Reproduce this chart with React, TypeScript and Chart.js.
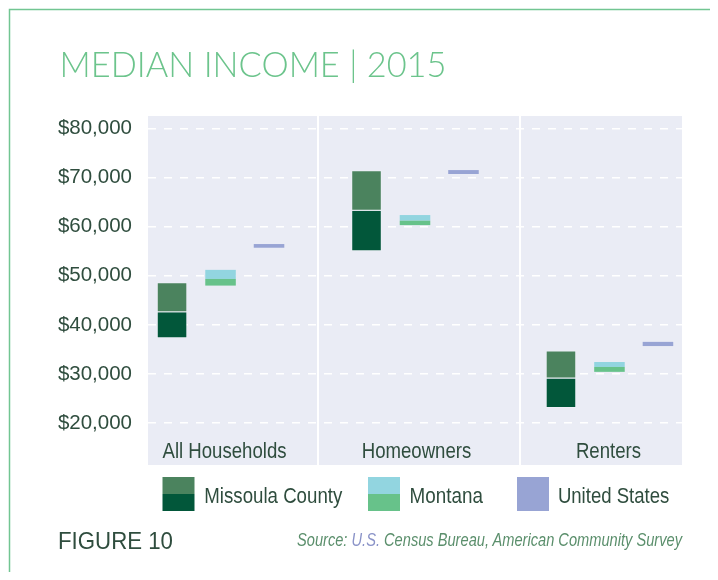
import React, { useEffect, useRef } from 'react';
import { Chart, registerables } from 'chart.js';

Chart.register(...registerables);

// ---------- data ----------
const categories = ['All Households', 'Homeowners', 'Renters'];
const missoulaLow = [37300, 55000, 23100];
const missoulaMid = [42600, 63200, 29100];
const missoulaHigh = [48700, 71450, 34800];
const montanaLow = [48000, 60300, 30450];
const montanaMid = [49350, 61200, 31450];
const montanaHigh = [51200, 62350, 32450];
const usLow = [55700, 70700, 35700];
const usHigh = [56450, 71500, 36550];
const yTickValues = [20000, 30000, 40000, 50000, 60000, 70000, 80000];
const legendLabels = ['Missoula County', 'Montana', 'United States'];
const titleText = 'MEDIAN INCOME | 2015';
const figureText = 'FIGURE 10';

// ---------- style ----------
const TEXT = '#2f4d3e';
const PLOT_BG = '#eaecf5';
const C_MC_DARK = '#02573a';
const C_MC_MID = '#4b835e';
const C_MT_GREEN = '#67c28a';
const C_MT_BLUE = '#92d5e0';
const C_US = '#98a4d4';
const MC_EDGE = 'rgba(255,255,255,0.22)';
const SANS = "'Liberation Sans', Arial, sans-serif";

const range = (lo: number[], hi: number[]) => lo.map((v, i) => ({ x: i, y: [v, hi[i]] }));

const barCommon = {
  categoryPercentage: 0.748,
  barPercentage: 0.63,
};

const bgPlugin = {
  id: 'plotBg',
  beforeDraw(chart: any) {
    const { ctx, chartArea } = chart;
    ctx.save();
    ctx.fillStyle = PLOT_BG;
    ctx.fillRect(chartArea.left, chartArea.top, chartArea.right - chartArea.left, chartArea.bottom - chartArea.top);
    ctx.restore();
  },
  beforeDatasetsDraw(chart: any) {
    const { ctx, chartArea, scales } = chart;
    const x = scales.x;
    ctx.save();
    ctx.strokeStyle = '#ffffff';
    ctx.lineWidth = 2;
    [0.5, 1.54].forEach((v) => {
      const px = Math.round(x.getPixelForValue(v));
      ctx.beginPath();
      ctx.moveTo(px, chartArea.top);
      ctx.lineTo(px, chartArea.bottom);
      ctx.stroke();
    });
    ctx.restore();
  },
  afterDatasetsDraw(chart: any) {
    const { ctx, chartArea, scales } = chart;
    const x = scales.x;
    ctx.save();
    ctx.font = `21.5px ${SANS}`;
    ctx.fillStyle = TEXT;
    ctx.textAlign = 'center';
    ctx.textBaseline = 'alphabetic';
    categories.forEach((c, i) => {
      ctx.save();
      ctx.translate(x.getPixelForValue(i) + 4 - i * 2.5, chartArea.bottom - 7.3);
      ctx.scale(0.865, 1);
      ctx.fillText(c, 0, 0);
      ctx.restore();
    });
    ctx.restore();
  },
};

export default function App() {
  const ref = useRef<HTMLCanvasElement>(null);

  useEffect(() => {
    if (!ref.current) return;
    const chart = new Chart(ref.current, {
      type: 'bar',
      data: {
        datasets: [
          { label: 'Missoula County low', data: range(missoulaLow, missoulaMid) as any, backgroundColor: C_MC_DARK, borderColor: MC_EDGE, borderWidth: 1, borderSkipped: 'top', stack: 'mc', ...barCommon },
          { label: 'Missoula County high', data: range(missoulaMid, missoulaHigh) as any, backgroundColor: C_MC_MID, borderColor: MC_EDGE, borderWidth: 1, borderSkipped: false, stack: 'mc', ...barCommon },
          { label: 'Montana low', data: range(montanaLow, montanaMid) as any, backgroundColor: C_MT_GREEN, borderWidth: 0, stack: 'mt', ...barCommon },
          { label: 'Montana high', data: range(montanaMid, montanaHigh) as any, backgroundColor: C_MT_BLUE, borderWidth: 0, stack: 'mt', ...barCommon },
          { label: 'United States', data: range(usLow, usHigh) as any, backgroundColor: C_US, borderWidth: 0, stack: 'us', ...barCommon },
        ],
      },
      options: {
        responsive: false,
        animation: false,
        layout: { padding: { top: 16, right: 28, bottom: 5, left: 0 } },
        plugins: {
          legend: { display: false },
          tooltip: { enabled: false },
          title: { display: false },
        },
        scales: {
          x: {
            type: 'linear',
            display: false,
            offset: false,
            grid: { offset: false },
            min: -0.373,
            max: 2.373,
            stacked: true,
            afterBuildTicks: (s: any) => {
              s.ticks = categories.map((_, i) => ({ value: i }));
            },
          },
          y: {
            type: 'linear',
            min: 11500,
            max: 82500,
            stacked: false,
            afterFit: (s: any) => {
              s.width = 140;
              s.paddingTop = 0;
              s.paddingBottom = 0;
            },
            afterBuildTicks: (s: any) => {
              s.ticks = yTickValues.map((v) => ({ value: v }));
            },
            ticks: {
              padding: 16,
              color: TEXT,
              font: { family: SANS, size: 20.5 },
              callback: (v: any) => '$' + Number(v).toLocaleString('en-US'),
            },
            grid: { color: '#ffffff', lineWidth: 1.5, drawTicks: false },
            border: { display: false, dash: [8, 8] },
          },
        },
      } as any,
      plugins: [bgPlugin],
    });
    return () => chart.destroy();
  }, []);

  const legendY = 477;
  const legendH = 34;
  return (
    <div style={{ position: 'relative', width: 702, height: 564 }}>
      <canvas
        ref={ref}
        width={702}
        height={370}
        style={{ position: 'absolute', left: 0, top: 92, width: 702, height: 370 }}
      />
      <svg
        width={718}
        height={580}
        style={{ position: 'absolute', left: -8, top: -8, pointerEvents: 'none' }}
      >
        <path d="M9.5 580 V9.5 H718" fill="none" stroke="#72c592" strokeWidth={1.5} />
        <text x={59.5} y={77} fontFamily="Lato, 'Liberation Sans', sans-serif" fontWeight={300} fontSize={35} fill="#6cc48c" textLength={387} lengthAdjust="spacingAndGlyphs">
          {titleText}
        </text>

        {/* legend */}
        <rect x={162.5} y={legendY} width={32} height={legendH / 2} fill={C_MC_MID} />
        <rect x={162.5} y={legendY + legendH / 2} width={32} height={legendH / 2} fill={C_MC_DARK} />
        <text x={204.3} y={502.5} fontFamily={SANS} fontSize={22} fill={TEXT} textLength={138} lengthAdjust="spacingAndGlyphs">{legendLabels[0]}</text>

        <rect x={368} y={legendY} width={32} height={legendH / 2} fill={C_MT_BLUE} />
        <rect x={368} y={legendY + legendH / 2} width={32} height={legendH / 2} fill={C_MT_GREEN} />
        <text x={409.6} y={502.5} fontFamily={SANS} fontSize={22} fill={TEXT} textLength={73.3} lengthAdjust="spacingAndGlyphs">{legendLabels[1]}</text>

        <rect x={517} y={legendY} width={32} height={legendH} fill={C_US} />
        <text x={557.9} y={502.5} fontFamily={SANS} fontSize={22} fill={TEXT} textLength={111.4} lengthAdjust="spacingAndGlyphs">{legendLabels[2]}</text>

        {/* footer */}
        <text x={58} y={549.3} fontFamily={SANS} fontSize={24.5} fill={TEXT} textLength={115} lengthAdjust="spacingAndGlyphs">{figureText}</text>
        <text x={297} y={546} fontFamily={SANS} fontStyle="italic" fontSize={18.5} fill="#5b8f6c" textLength={385} lengthAdjust="spacingAndGlyphs">
          <tspan>Source: </tspan>
          <tspan fill="#8a93c8">U.S.</tspan>
          <tspan> Census Bureau, American Community Survey</tspan>
        </text>
      </svg>
    </div>
  );
}
